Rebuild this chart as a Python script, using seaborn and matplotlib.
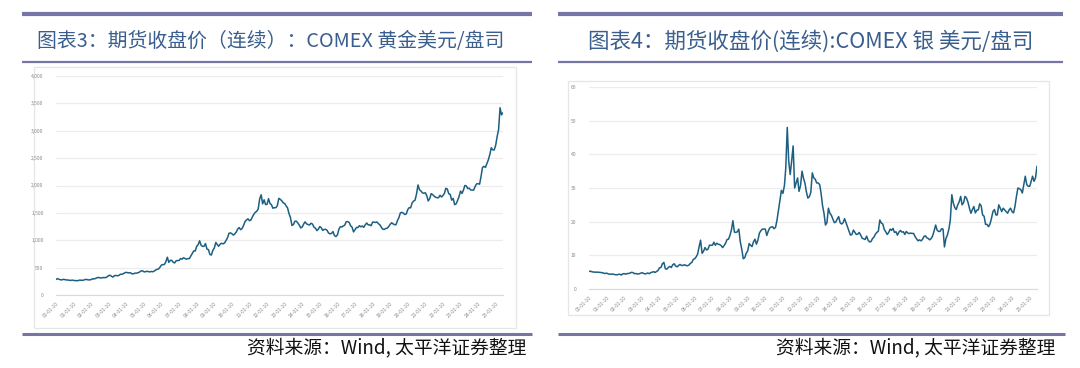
import numpy as np
import pandas as pd
import matplotlib
matplotlib.use("Agg")
import matplotlib.pyplot as plt
import seaborn as sns
from matplotlib.lines import Line2D
from matplotlib.patches import Rectangle

# ---------------- data (monthly, 2000-01 .. 2025-06) ----------------
gold_2000_2012 = [
    284, 300, 286, 280, 275, 286, 282, 275, 274, 270, 266, 272,
    266, 262, 263, 261, 272, 270, 268, 273, 284, 283, 276, 276,
    282, 296, 294, 302, 314, 321, 314, 310, 319, 317, 319, 333,
    357, 359, 340, 328, 355, 356, 351, 360, 379, 379, 389, 407,
    414, 405, 406, 404, 384, 392, 398, 400, 406, 420, 439, 442,
    424, 423, 434, 428, 422, 430, 424, 437, 456, 469, 476, 510,
    549, 555, 557, 610, 690, 596, 633, 632, 598, 586, 627, 629,
    631, 665, 655, 679, 667, 655, 665, 665, 712, 754, 806, 803,
    889, 922, 990, 909, 888, 889, 940, 839, 829, 740, 730, 816,
    858, 960, 924, 890, 928, 945, 934, 949, 996, 1043, 1127, 1135,
    1118, 1095, 1114, 1149, 1205, 1232, 1193, 1215, 1271, 1343, 1370, 1391,
    1356, 1372, 1424, 1474, 1510, 1528, 1572, 1756, 1830, 1665, 1739, 1652,
    1656, 1760, 1673, 1650, 1585, 1596, 1594, 1630, 1765, 1747, 1722, 1684,
]
gold_2013_2025 = [
    1671, 1627, 1593, 1487, 1414, 1270, 1286, 1347, 1348, 1316, 1275, 1225,
    1244, 1300, 1336, 1299, 1287, 1279, 1311, 1296, 1239, 1222, 1176, 1202,
    1251, 1227, 1179, 1198, 1199, 1182, 1131, 1117, 1125, 1159, 1086, 1068,
    1097, 1200, 1246, 1242, 1260, 1276, 1337, 1341, 1326, 1266, 1238, 1152,
    1192, 1234, 1231, 1266, 1246, 1260, 1236, 1283, 1315, 1280, 1283, 1265,
    1331, 1331, 1325, 1334, 1303, 1282, 1238, 1201, 1198, 1215, 1221, 1250,
    1291, 1320, 1300, 1285, 1283, 1359, 1413, 1500, 1510, 1495, 1470, 1480,
    1560, 1597, 1592, 1683, 1715, 1732, 1846, 2010, 1921, 1900, 1866, 1858,
    1867, 1808, 1718, 1760, 1850, 1834, 1807, 1785, 1777, 1777, 1821, 1790,
    1817, 1856, 1948, 1937, 1849, 1837, 1733, 1764, 1650, 1664, 1726, 1798,
    1898, 1855, 1913, 2000, 1992, 1943, 1951, 1918, 1916, 1917, 1985, 2030,
    2034, 2024, 2160, 2330, 2350, 2330, 2400, 2470, 2570, 2690, 2650, 2650,
    2740, 2900, 3020, 3420, 3290, 3330,
]
gold_values = gold_2000_2012 + gold_2013_2025

silver_2000_2012 = [
    5.2, 5.3, 5.1, 5.05, 5.0, 5.0, 5.0, 4.95, 4.9, 4.85, 4.7, 4.6,
    4.7, 4.5, 4.4, 4.4, 4.45, 4.35, 4.25, 4.2, 4.35, 4.4, 4.15, 4.5,
    4.55, 4.4, 4.6, 4.6, 4.75, 4.95, 4.85, 4.55, 4.6, 4.45, 4.5, 4.65,
    4.85, 4.65, 4.5, 4.55, 4.75, 4.55, 4.85, 5.0, 5.15, 4.9, 5.2, 5.5,
    6.3, 6.4, 7.5, 7.9, 6.0, 5.9, 6.4, 6.7, 6.4, 7.2, 7.5, 6.8,
    6.6, 7.0, 7.3, 7.0, 7.0, 7.2, 7.0, 6.9, 7.1, 7.6, 7.9, 8.8,
    9.0, 9.6, 10.4, 12.6, 14.5, 10.6, 11.2, 12.3, 11.6, 11.8, 13.0, 13.0,
    13.0, 13.9, 13.0, 13.6, 13.3, 13.2, 12.9, 12.3, 12.9, 13.6, 14.7, 14.8,
    16.0, 17.7, 20.3, 16.9, 16.8, 17.0, 17.8, 14.0, 11.8, 9.0, 9.3, 10.6,
    11.3, 13.5, 13.0, 12.6, 14.0, 14.8, 13.3, 14.5, 16.6, 17.3, 17.8, 17.8,
    17.8, 15.9, 17.1, 18.1, 18.4, 18.5, 17.9, 18.3, 20.5, 23.3, 26.4, 29.3,
    28.4, 30.7, 35.8, 48.0, 38.0, 34.0, 38.0, 42.5, 30.0, 31.5, 33.0, 29.0,
    30.7, 35.0, 33.0, 31.5, 28.9, 27.0, 27.4, 28.7, 34.5, 33.0, 32.6, 31.5,
]
silver_2013_2025 = [
    31.5, 31.0, 28.5, 24.8, 22.5, 19.0, 19.7, 24.0, 22.5, 21.9, 20.8, 19.7,
    19.9, 20.8, 21.5, 19.7, 19.3, 19.7, 20.9, 19.7, 18.4, 17.2, 16.0, 16.2,
    17.5, 16.8, 16.2, 16.3, 16.8, 16.0, 15.1, 14.9, 14.7, 15.7, 14.5, 14.0,
    14.1, 15.0, 15.4, 16.3, 16.8, 17.2, 20.5, 19.6, 19.3, 17.7, 17.0, 16.2,
    16.8, 17.8, 17.4, 18.0, 16.8, 17.0, 16.0, 16.9, 17.4, 16.9, 17.0, 16.2,
    17.1, 16.6, 16.5, 16.6, 16.5, 16.5, 15.6, 14.9, 14.3, 14.6, 14.3, 14.7,
    15.6, 15.8, 15.2, 15.0, 14.6, 15.0, 15.8, 17.3, 19.0, 17.5, 17.1, 17.1,
    17.9, 17.8, 12.5, 15.0, 16.0, 17.8, 20.5, 28.0, 25.5, 24.2, 23.6, 25.0,
    25.9, 27.5, 25.0, 25.6, 27.5, 27.0, 25.8, 24.0, 22.5, 23.6, 24.5, 22.6,
    23.4, 23.5, 25.3, 24.7, 22.0, 21.6, 19.2, 19.2, 18.5, 19.3, 21.0, 23.0,
    23.6, 22.0, 22.0, 25.0, 24.0, 23.0, 24.0, 23.5, 23.0, 22.5, 23.5, 24.0,
    23.0, 22.6, 24.5, 27.5, 30.0, 29.8, 29.5, 28.5, 31.0, 33.5, 31.0, 30.5,
    30.5, 32.0, 33.5, 32.0, 33.0, 36.5,
]
silver_values = silver_2000_2012 + silver_2013_2025

dates = pd.date_range("2000-01-01", periods=len(gold_values), freq="MS")
tick_years = list(range(2000, 2026))
tick_labels = [f"{y % 100:02d}-01-10" for y in tick_years]
gold_yticks = [0, 500, 1000, 1500, 2000, 2500, 3000, 3500, 4000]
silver_yticks = [0, 10, 20, 30, 40, 50, 60]

title_left = "图表3：期货收盘价（连续）：COMEX 黄金美元/盘司"
title_right = "图表4：期货收盘价(连续):COMEX 银 美元/盘司"
source_text = "资料来源：Wind, 太平洋证券整理"

gold_df = pd.DataFrame({"date": dates, "price": gold_values})
silver_df = pd.DataFrame({"date": dates, "price": silver_values})

# ---------------- styling ----------------
sns.set_style("white")
plt.rcParams["font.family"] = ["Noto Sans CJK SC", "DejaVu Sans"]

W, H = 1080, 368
fig = plt.figure(figsize=(W / 100, H / 100), dpi=100)
fig.patch.set_facecolor("white")

LINE_COLOR = "#1c5f82"
SEP_COLOR = "#7676a6"
TITLE_COLOR = "#3a5e8e"


def fx(px):
    return px / W


def fy(py):
    return 1 - py / H


def hline(x0, x1, y, lw, color=SEP_COLOR):
    fig.add_artist(Line2D([fx(x0), fx(x1)], [fy(y), fy(y)], color=color,
                          linewidth=lw, transform=fig.transFigure,
                          solid_capstyle="butt"))


def box(x0, y0, x1, y1):
    fig.add_artist(Rectangle((fx(x0), fy(y1)), fx(x1) - fx(x0), fy(y0) - fy(y1),
                             transform=fig.transFigure, facecolor="white",
                             edgecolor="#e6e6e6", linewidth=0.9, zorder=0))


def make_axes(x0, x1, ytop, ybot, df, yticks, fmt):
    ax = fig.add_axes([fx(x0), fy(ybot), fx(x1) - fx(x0), fy(ytop) - fy(ybot)])
    ax.set_facecolor("none")
    sns.lineplot(data=df, x="date", y="price", ax=ax, color=LINE_COLOR,
                 linewidth=1.1)
    ax.set_xlim(df["date"].iloc[0], df["date"].iloc[-1])
    ax.set_ylim(yticks[0], yticks[-1])
    ax.set_yticks(yticks)
    ax.set_yticklabels([fmt(v) for v in yticks])
    ax.set_xticks(pd.to_datetime([f"{y}-01-01" for y in tick_years]))
    ax.set_xticklabels(tick_labels, rotation=45, ha="right",
                       rotation_mode="anchor")
    ax.tick_params(axis="x", labelsize=3.6, colors="#8a8a8a", length=2,
                   width=0.6, pad=2, color="#d0d0d0")
    ax.tick_params(axis="y", labelsize=3.6, colors="#8a8a8a", length=0, pad=9)
    ax.grid(axis="y", color="#ececec", linewidth=0.9)
    ax.set_axisbelow(True)
    for s in ["left", "right", "top"]:
        ax.spines[s].set_visible(False)
    ax.spines["bottom"].set_color("#d9d9d9")
    ax.spines["bottom"].set_linewidth(0.8)
    ax.set_xlabel("")
    ax.set_ylabel("")
    return ax


# left panel
hline(22, 532, 13.5, 3.0)
fig.text(fx(37), fy(42), title_left, color=TITLE_COLOR, fontsize=14.3,
         va="center", ha="left")
hline(22, 532, 61.5, 1.6)
box(34, 67, 516, 328)
make_axes(56, 503, 76, 295, gold_df, gold_yticks, lambda v: f"{v:,}")
hline(22, 532, 334, 2.2)
fig.text(fx(526), fy(348), source_text, color="#111111", fontsize=13.5,
         va="center", ha="right")

# right panel
hline(558, 1063, 13.5, 3.0)
fig.text(fx(588), fy(42), title_right, color=TITLE_COLOR, fontsize=15.5,
         va="center", ha="left")
hline(558, 1063, 61.5, 1.6)
box(568, 81, 1049, 315)
make_axes(589, 1037, 87, 289, silver_df, silver_yticks, lambda v: f"{v}")
hline(558, 1065, 334, 2.2)
fig.text(fx(1055), fy(348), source_text, color="#111111", fontsize=13.5,
         va="center", ha="right")

fig.savefig("out.png", dpi=100, facecolor="white")
